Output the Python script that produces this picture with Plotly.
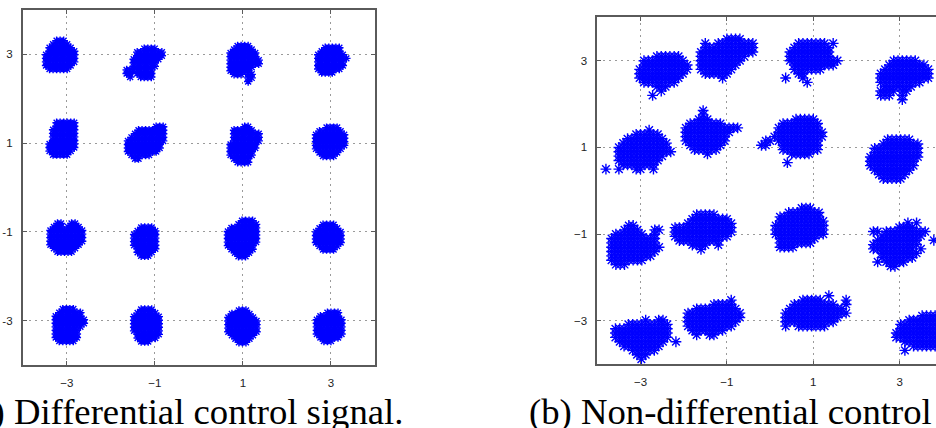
import plotly.graph_objects as go

# ---------------- data ----------------
tick_vals = [-3, -1, 1, 3]
x_tick_text = ["\u22123", "\u22121", "1", "3"]
left_y_tick_text = ["-3", "-1", "1", "3"]
right_y_tick_text = ["\u22123", "\u22121", "1", "3"]

captions = ["(a) Differential control signal.", "(b) Non-differential control signal."]

# Each cluster of received symbols is given as a small raster of its dense area
# (one '#' per sample position), the top-left cell anchored at (x0, y0).
left_cell = 0.08
left_x0 = [-3.47, -1.64, -3.39, -1.61, -3.37, -1.47, -3.25, -1.47,
           0.72, 2.71, 0.72, 2.66, 0.66, 2.66, 0.67, 2.68]
left_y0 = [3.31, 3.13, 1.46, 1.37, -0.81, -0.90, -2.74, -2.75,
           3.19, 3.15, 1.37, 1.35, -0.75, -0.84, -2.77, -2.82]
left_shapes = [
    ["...###...", "..#####..", ".#######.", ".########", "#########",
     "#########", "#########", "########.", ".######.."],
    [".....####..", "...########", "...########", "..########.", "..#######..",
     "..#######..", "########...", "##.#####...", ".#..####..."],
    ["..######", "..######", ".#######", ".#######", ".#######",
     ".#######", "########", "########", "#######.", ".#####.."],
    ["........###", "...########", "..#########", ".##########", "###########",
     "##########.", "##########.", "#########..", ".######....", "..##......."],
    ["..##..##..", ".###.####.", "##########", "##########", "##########",
     "##########", "#########.", ".#######..", "..#####..."],
    ["..####..", ".######.", "#######.", "#######.", "#######.",
     "#######.", ".######.", ".#####..", "..###..."],
    ["..####...", ".#######.", "########.", "#########", "#########",
     "########.", "#######..", "#######..", "#######..", ".#####..."],
    ["..####..", ".######.", "########", "########", "########",
     "########", "########", ".#######", ".######.", "..###..."],
    ["..####...", ".######..", "########.", "########.", "#########", "#########",
     "#######..", "######...", ".###.##..", ".....##..", ".....#..."],
    ["..#####..", ".######..", "########.", "#########", "########.",
     "########.", "#######..", ".####...."],
    ["....##...", ".######..", ".########", ".########", ".########", "########.",
     "########.", "#######..", "#######..", ".#####...", "..####..."],
    ["...####..", ".#######.", "#########", "#########", "#########",
     "#########", "########.", ".######..", "..####..."],
    ["....####.", "...######", ".########", "#########", "#########", "#########",
     "#########", "########.", ".#######.", "..#####..", "...###..."],
    ["..####..", ".######.", "########", "########", "########",
     "########", ".######.", "..####.."],
    ["...###...", ".######..", "########.", "#########", "#########",
     "#########", "#########", ".#######.", "..#####..", "...###..."],
    ["...####.", ".######.", "########", "########", "########",
     "########", "########", ".######.", "..###..."],
]

right_cell = 0.10
right_x0 = [-3.02, -1.60, -3.80, -1.95, -3.67, -2.20, -3.58, -1.90,
            0.36, 2.56, -0.20, 2.32, 0.13, 2.39, 0.36, 2.92]
right_y0 = [3.10, 3.50, 1.40, 1.85, -0.80, -0.55, -2.98, -2.52,
            3.40, 3.00, 1.65, 1.18, -0.40, -0.74, -2.42, -2.88]
right_shapes = [
    ["....######..", ".##########.", ".###########", "############", "###########.",
     "##########..", ".########...", "....###.....", ".....#......", "...#........"],
    ["......####...", ".#..#########", ".############", "#############", "###########..",
     "##########...", "#########....", "########.....", ".######......", ".....#......."],
    ["..........#.....", ".......######...", ".....#########..", "....###########.",
     "...############.", "...#############", "...###########..", "...##########...",
     "....########....", "#..#...##..#...."],
    ["....#........", "....#........", "...###.......", ".########....", "#############",
     "###########..", "##########...", "##########...", ".########....", "..######.....",
     ".....#......."],
    ["....##......", "...####...##", ".#######..#.", "###########.", "###########.",
     "############", "###########.", "##########..", "########....", ".###........"],
    [".....#####....", "....#########.", "...###########", "##############",
     "##############", "#############.", ".##########...", "....####..#...", "......#......."],
    [".......#..##...", "...##########..", "#############..", "#############..",
     "#############..", ".###########..#", "..#########....", "....######.....",
     ".....###.......", "......#........"],
    ["..........#..", "......#####..", "..##########.", "#############", "#############",
     "############.", "###########..", ".########....", "..#..##......"],
    ["...#######.#.", "..#########..", ".##########..", ".##########..", ".############",
     "..##########.", "..#######....", "...##........", "#...#........", ".....#......."],
    ["...######...", "..#########.", ".###########", "############", "############",
     "##########..", ".#######....", "####.##.....", "###..#......", ".....#......"],
    ["........#####..", ".....#########.", "....##########.", "....###########",
     "...############", ".##.##########.", "##...#########.", ".....#########.",
     ".......#####...", "...............", "......#........"],
    ["....######..", "...#########", ".###########", ".###########", "############",
     "###########.", "###########.", ".#########..", "..#######...", "...#####...."],
    ["......###...", "...########.", ".##########.", ".###########", "############",
     "############", "############", ".#########..", ".########...", ".####......."],
    ["........#.#....", "......####.....", "##.##########..", "..##########...",
     ".##########...#", "###########....", "##########.#...", "..#########....",
     "..########.....", ".#.#####.......", "....##........."],
    ["..........#....", "....#####.....#", "..##########..#", ".#############.",
     "###############", "#############..", "############...", "#..#######....."],
    ["......#######", "...##########", ".############", ".############", "#############",
     "#############", "..###########", "....#######..", "..#.........."],
]


def raster_points(x0s, y0s, shapes, cell):
    xs, ys = [], []
    for x0, y0, rows in zip(x0s, y0s, shapes):
        for r, row in enumerate(rows):
            for c, ch in enumerate(row):
                if ch == "#":
                    xs.append(round(x0 + c * cell, 3))
                    ys.append(round(y0 - r * cell, 3))
    return xs, ys


lx, ly = raster_points(left_x0, left_y0, left_shapes, left_cell)
rx, ry = raster_points(right_x0, right_y0, right_shapes, right_cell)

W, H = 936, 428
BLUE = "#0000ff"
AX = "#5a5a5a"

fig = go.Figure()
fig.add_trace(go.Scatter(
    x=lx, y=ly, mode="markers", xaxis="x", yaxis="y", showlegend=False,
    marker=dict(symbol="asterisk-open", size=7, color=BLUE,
                line=dict(color=BLUE, width=1.4)),
))
fig.add_trace(go.Scatter(
    x=rx, y=ry, mode="markers", xaxis="x2", yaxis="y2", showlegend=False,
    marker=dict(symbol="asterisk-open", size=9, color=BLUE,
                line=dict(color=BLUE, width=1.4)),
))

tickfont = dict(family="Liberation Sans, Arial, sans-serif", size=11.5, color="#222222")
common = dict(
    tickvals=tick_vals, showgrid=True, gridcolor="#9a9a9a", gridwidth=1,
    griddash="2px,4px", zeroline=False, showline=True, linecolor=AX,
    linewidth=1.6, ticks="inside", ticklen=4, tickcolor=AX, tickwidth=1,
    tickfont=tickfont, fixedrange=True,
)

fig.update_layout(
    width=W, height=H, autosize=False,
    margin=dict(l=0, r=0, t=0, b=0),
    paper_bgcolor="white", plot_bgcolor="white",
    xaxis=dict(domain=[22.7 / W, 375 / W], range=[-4, 4], anchor="y",
               ticktext=x_tick_text, mirror="ticks", ticklabelstandoff=6, **common),
    yaxis=dict(domain=[(H - 365) / H, (H - 10) / H], range=[-4, 4], anchor="x",
               ticktext=left_y_tick_text, mirror="ticks", ticklabelstandoff=6, **common),
    xaxis2=dict(domain=[597.3 / W, 1.0], range=[-4, 3.84], anchor="y2",
                ticktext=x_tick_text, mirror="ticks", ticklabelstandoff=6, **common),
    yaxis2=dict(domain=[(H - 364.3) / H, (H - 17.3) / H], range=[-4, 4], anchor="x2",
                ticktext=right_y_tick_text, mirror=False, ticklabelstandoff=6, **common),
)

capfont = dict(family="Liberation Serif, Times New Roman, serif", size=36.7, color="black")
fig.add_annotation(text=captions[0], xref="paper", yref="paper", x=-38 / W, y=-0.014,
                   xanchor="left", yanchor="bottom", showarrow=False, font=capfont)
fig.add_annotation(text=captions[1], xref="paper", yref="paper", x=527 / W, y=-0.014,
                   xanchor="left", yanchor="bottom", showarrow=False, font=capfont)

fig.write_html("out.html", post_script="document.body.style.margin='0';",
               config={"displayModeBar": False})
